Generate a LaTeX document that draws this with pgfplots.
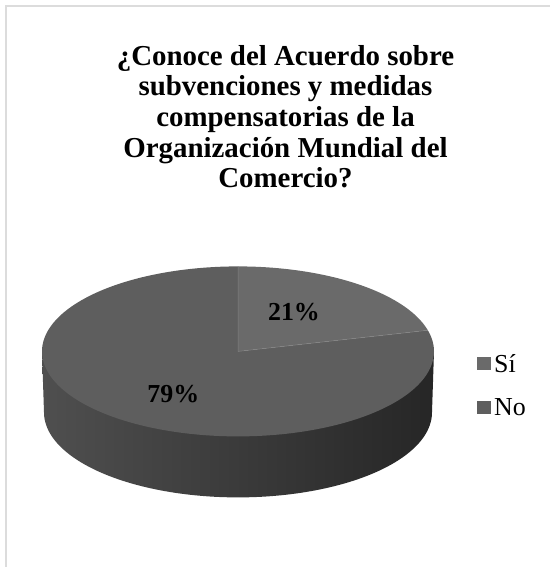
\documentclass[border=0pt]{standalone}
\usepackage{fontspec}
\setmainfont{Liberation Serif}
\usepackage{pgfplots}
\pgfplotsset{compat=1.18}
\usepackage{pgfplotstable}

\pgfplotstableread{
label value
Si 21
No 79
}\piedata
\pgfplotstablegetelem{0}{value}\of\piedata \let\vSi\pgfplotsretval
\pgfplotstablegetelem{1}{value}\of\piedata \let\vNo\pgfplotsretval

\definecolor{siCol}{HTML}{6A6A6A}
\definecolor{noCol}{HTML}{5E5E5E}
\definecolor{sideL}{HTML}{4F4F4F}
\definecolor{sideM}{HTML}{383838}
\definecolor{sideR}{HTML}{262626}
\definecolor{edgeCol}{HTML}{858585}
\definecolor{frameCol}{HTML}{DCDCDC}

% pie geometry (pixel units, y upwards)
\def\cx{238}\def\cy{215.6}\def\rx{196}\def\ry{85}
\def\bcy{154.6}\def\brx{194}\def\bry{85}

\begin{document}
\begin{tikzpicture}
\pgfmathsetmacro\aSi{90-360*\vSi/(\vSi+\vNo)}
\pgfmathsetmacro\aEnd{\aSi+360}
\pgfmathsetmacro\ex{\cx+\rx*cos(\aSi)}
\pgfmathsetmacro\ey{\cy+\ry*sin(\aSi)}
\pgfmathsetmacro\xL{\cx-\rx}
\pgfmathsetmacro\xR{\cx+\rx}
\pgfmathsetmacro\yT{\cy+\ry}
\useasboundingbox (0,0) rectangle (550bp,567bp);
\begin{axis}[
  at={(0,0)}, anchor=south west,
  x=1bp, y=1bp,
  xmin=0, xmax=550, ymin=0, ymax=567,
  hide axis, scale only axis, clip=false,
  legend cell align=left,
  legend style={at={(axis cs:477,181.4)}, anchor=west, draw=none, fill=none,
    inner sep=0pt, font=\fontsize{26}{30}\selectfont, row sep=25bp,
    nodes={inner xsep=3bp, inner ysep=0bp}},
]
% side of the cylinder
\addplot[forget plot, draw=none, left color=sideL, middle color=sideM, right color=sideR,
  domain=180:360, samples=120]
  ({\cx+\brx*cos(x)},{\bcy+\bry*sin(x)}) -- (axis cs:\xR,\cy) -- (axis cs:\xL,\cy) -- cycle;
% top slices
\addplot[draw=none, fill=siCol, domain=\aSi:90, samples=60,
  legend image code/.code={\fill (0bp,-6.5bp) rectangle (14bp,7bp);}]
  ({\cx+\rx*cos(x)},{\cy+\ry*sin(x)}) -- (axis cs:\cx,\cy) -- cycle;
\addlegendentry{Sí}
\addplot[draw=none, fill=noCol, domain=90:\aEnd, samples=200,
  legend image code/.code={\fill (0bp,-6.5bp) rectangle (14bp,7bp);}]
  ({\cx+\rx*cos(x)},{\cy+\ry*sin(x)}) -- (axis cs:\cx,\cy) -- cycle;
\addlegendentry{No}
% slice edges
\draw[edgeCol, line width=0.5bp] (axis cs:\cx,\yT) -- (axis cs:\cx,\cy) -- (axis cs:\ex,\ey);
% data labels
\node[font=\bfseries\fontsize{26}{30}\selectfont] at (axis cs:294,255) {\vSi\%};
\node[font=\bfseries\fontsize{26}{30}\selectfont] at (axis cs:173.4,172.5) {\vNo\%};
% title
\node[font=\bfseries\fontsize{29}{30.8}\selectfont, align=center, inner sep=0pt, anchor=north]
  at (axis cs:285.5,522) {¿Conoce del Acuerdo sobre\\subvenciones y medidas\\compensatorias de la\\Organización Mundial del\\Comercio?};
% frame
\draw[frameCol, line width=1.5bp] (axis cs:6,0) -- (axis cs:6,561) -- (axis cs:550,561);
\end{axis}
\end{tikzpicture}
\end{document}
